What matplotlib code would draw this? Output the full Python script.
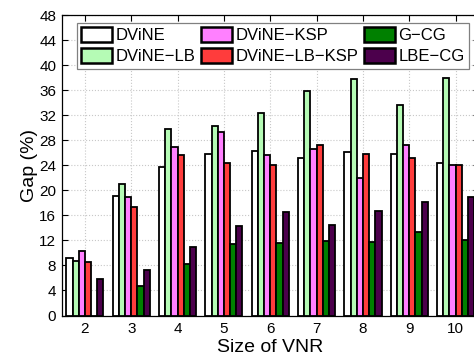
import numpy as np
import matplotlib
matplotlib.use('Agg')
import matplotlib.pyplot as plt

plt.rcParams['font.family'] = ['Liberation Sans', 'DejaVu Sans']

### VNR sizes on the x axis
vnr_size = [2, 3, 4, 5, 6, 7, 8, 9, 10]

### Gap (%) per algorithm
dvine = [9.2, 19.1, 23.7, 25.8, 26.3, 25.2, 26.1, 25.8, 24.4]
dvine_lb = [8.7, 21.0, 29.8, 30.3, 32.3, 35.9, 37.7, 33.7, 38.0]
dvine_ksp = [10.3, 18.9, 26.9, 29.3, 25.7, 26.6, 22.0, 27.3, 24.1]
dvine_lb_ksp = [8.5, 17.3, 25.6, 24.3, 24.0, 27.3, 25.8, 25.1, 24.1]
g_cg = [0.0, 4.7, 8.3, 11.4, 11.6, 11.9, 11.8, 13.4, 12.1]
lbe_cg = [5.8, 7.2, 10.9, 14.3, 16.5, 14.4, 16.7, 18.1, 19.0]

labels = ['DViNE', 'DViNE\u2212LB', 'DViNE\u2212KSP', 'DViNE\u2212LB\u2212KSP', 'G\u2212CG', 'LBE\u2212CG']
colors = ['#ffffff', '#b5fbb5', '#ff80ff', '#ff3c3c', '#008000', '#4c004c']
series = [dvine, dvine_lb, dvine_ksp, dvine_lb_ksp, g_cg, lbe_cg]

fig = plt.figure(figsize=(4.74, 3.58), dpi=100)
ax = fig.add_axes([0.1302, 0.1187, 0.880, 0.8394])

x = np.array(vnr_size, dtype=float)
w = 0.8 / len(series)
handles = []
for i, (vals, col, lab) in enumerate(zip(series, colors, labels)):
    b = ax.bar(x + (i - 2.5) * w, vals, width=w, color=col, edgecolor='black',
               linewidth=1.3, label=lab, zorder=3)
    handles.append(b)

ax.set_xlim(1.5, 10.5)
ax.set_ylim(0, 48)
ax.set_xticks(vnr_size)
ax.set_yticks(np.arange(0, 49, 4))
ax.tick_params(direction='in', top=True, right=True, length=4, labelsize=11)
ax.tick_params(axis='x', pad=5)
ax.tick_params(axis='y', pad=4)
ax.grid(True, linestyle=':', color='#c8c8c8', linewidth=0.8, zorder=0)
ax.set_axisbelow(True)
for s in ax.spines.values():
    s.set_linewidth(0.9)

ax.set_xlabel('Size of VNR', fontsize=14, labelpad=2)
ax.set_ylabel('Gap (%)', fontsize=14, labelpad=1)

leg = ax.legend(handles=handles, ncol=3, loc='upper left',
                bbox_to_anchor=(76.7 / 474, 1 - 23.3 / 358), bbox_transform=fig.transFigure,
                fontsize=12, frameon=True, fancybox=False, borderaxespad=0,
                borderpad=0.25, handlelength=1.86, handleheight=0.96, handletextpad=0.2,
                columnspacing=0.35, labelspacing=0.3)
leg.get_frame().set_edgecolor('#808080')
leg.get_frame().set_linewidth(0.9)
leg.get_frame().set_alpha(1)
for p in leg.get_patches():
    p.set_linewidth(1.8)

fig.savefig('out.png', dpi=100)
